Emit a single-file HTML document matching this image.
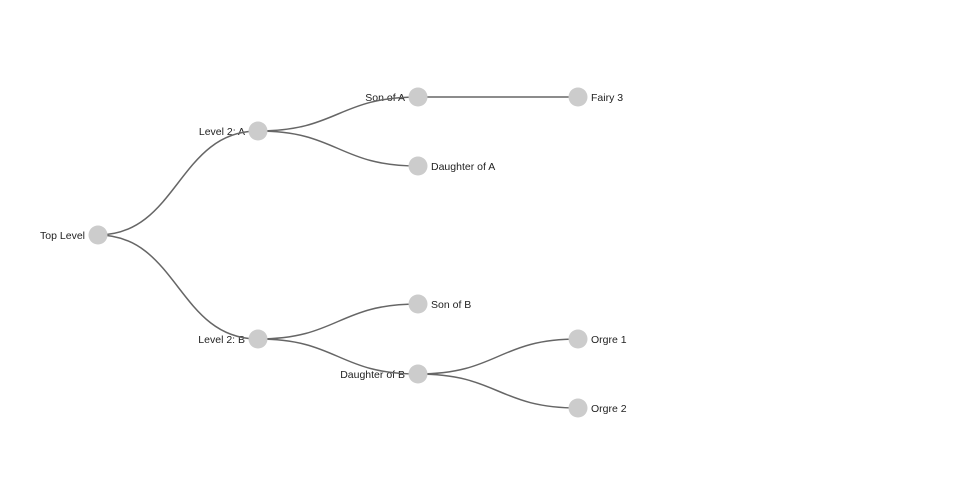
<!DOCTYPE html>
<html><head><style>body{margin:0;background:#fff}svg{display:block}text{font-family:"Liberation Sans",sans-serif;font-size:10.5px;fill:#222}</style></head><body>
<svg width="960" height="500">
<g text-anchor="end">
<text x="85" y="239">Top Level</text>
<text x="245" y="135">Level 2: A</text>
<text x="245" y="343">Level 2: B</text>
<text x="405" y="101">Son of A</text>
<text x="405" y="378">Daughter of B</text>
</g>
<g>
<text x="431" y="170">Daughter of A</text>
<text x="431" y="308">Son of B</text>
<text x="591" y="101">Fairy 3</text>
<text x="591" y="343">Orgre 1</text>
<text x="591" y="412">Orgre 2</text>
</g>
<g fill="none" stroke="#666" stroke-width="1.5">
<path d="M98,235C178,235 178,131 258,131"/>
<path d="M98,235C178,235 178,339 258,339"/>
<path d="M258,131C338,131 338,97 418,97"/>
<path d="M258,131C338,131 338,166 418,166"/>
<path d="M258,339C338,339 338,304 418,304"/>
<path d="M258,339C338,339 338,374 418,374"/>
<path d="M418,97L578,97"/>
<path d="M418,374C498,374 498,339 578,339"/>
<path d="M418,374C498,374 498,408 578,408"/>
</g>
<g fill="#ccc">
<circle cx="98" cy="235" r="9.5"/>
<circle cx="258" cy="131" r="9.5"/>
<circle cx="258" cy="339" r="9.5"/>
<circle cx="418" cy="97" r="9.5"/>
<circle cx="418" cy="166" r="9.5"/>
<circle cx="418" cy="304" r="9.5"/>
<circle cx="418" cy="374" r="9.5"/>
<circle cx="578" cy="97" r="9.5"/>
<circle cx="578" cy="339" r="9.5"/>
<circle cx="578" cy="408" r="9.5"/>
</g>
</svg>
</body></html>
